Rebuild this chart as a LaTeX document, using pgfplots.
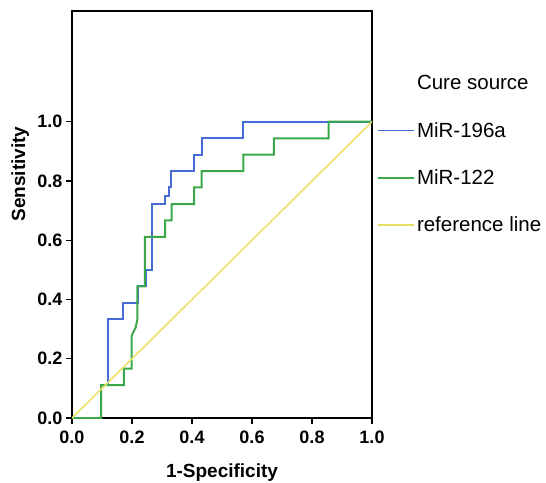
\documentclass[border=0pt]{standalone}
\usepackage{fontspec}
\setmainfont{Liberation Sans}
\usepackage{pgfplots}
\pgfplotsset{compat=1.18}
\definecolor{rocblue}{RGB}{72,108,214}
\definecolor{rocgreen}{RGB}{58,168,74}
\definecolor{refyellow}{RGB}{232,226,104}
\begin{document}
\begin{tikzpicture}
\begin{axis}[
  scale only axis,
  width=300pt, height=406.5pt,
  xmin=0, xmax=1, ymin=0, ymax=1.372,
  xtick={0,0.2,0.4,0.6,0.8,1},
  ytick={0,0.2,0.4,0.6,0.8,1},
  xtick pos=bottom, ytick pos=left,
  tick align=outside,
  major tick length=6pt,
  tick style={black, line width=1.4pt},
  axis line style={line width=2pt},
  /pgf/number format/.cd, fixed, fixed zerofill, precision=1, assume math mode=true,
  /pgfplots/.cd,
  ticklabel style={font=\fontsize{18}{20}\selectfont\bfseries},
  xticklabel style={yshift=-3pt},
  xlabel={1-Specificity},
  ylabel={Sensitivity},
  label style={font=\fontsize{19}{22}\selectfont\bfseries},
  xlabel style={at={(axis description cs:0.5,-0.135)}, anchor=center},
  ylabel style={at={(axis description cs:-0.173,0.6)}, anchor=center, rotate=0},
  legend style={at={(axis description cs:1.017,0.848)}, anchor=north west,
    draw=none, fill=none, inner sep=0pt, row sep=27pt,
    font=\fontsize{20.5}{23}\selectfont},
  legend cell align=left,
  legend image code/.code={\draw[#1, line width=1.7pt] (0pt,0pt) -- (36pt,0pt);},
]
\addlegendimage{empty legend}
\addlegendentry{Cure source}
\addplot[rocblue, line width=2pt] coordinates {
  (0,0) (0.097,0) (0.097,0.111) (0.121,0.111) (0.121,0.333) (0.171,0.333)
  (0.171,0.389) (0.221,0.389) (0.221,0.444) (0.247,0.444) (0.247,0.5)
  (0.266,0.5) (0.266,0.722) (0.31,0.722) (0.31,0.75) (0.322,0.75)
  (0.322,0.778) (0.33,0.778) (0.33,0.833) (0.407,0.833) (0.407,0.889)
  (0.432,0.889) (0.432,0.944) (0.569,0.944) (0.569,1) (1,1)
};
\addlegendentry{MiR-196a}
\addplot[rocgreen, line width=2pt] coordinates {
  (0,0) (0.097,0) (0.097,0.111) (0.173,0.111) (0.173,0.167) (0.199,0.167)
  (0.199,0.278) (0.212,0.305) (0.218,0.333) (0.218,0.444) (0.243,0.444)
  (0.243,0.611) (0.31,0.611) (0.31,0.667) (0.332,0.667) (0.332,0.722)
  (0.407,0.722) (0.407,0.778) (0.432,0.778) (0.432,0.833) (0.571,0.833)
  (0.571,0.889) (0.673,0.889) (0.673,0.944) (0.855,0.944) (0.855,1) (1,1)
};
\addlegendentry{MiR-122}
\addplot[refyellow, line width=1.6pt] coordinates {(0,0) (1,1)};
\addlegendentry{reference line}
\end{axis}
\pgfresetboundingbox
\path (-72pt,-64pt) rectangle (474pt,418pt);
\end{tikzpicture}
\end{document}
